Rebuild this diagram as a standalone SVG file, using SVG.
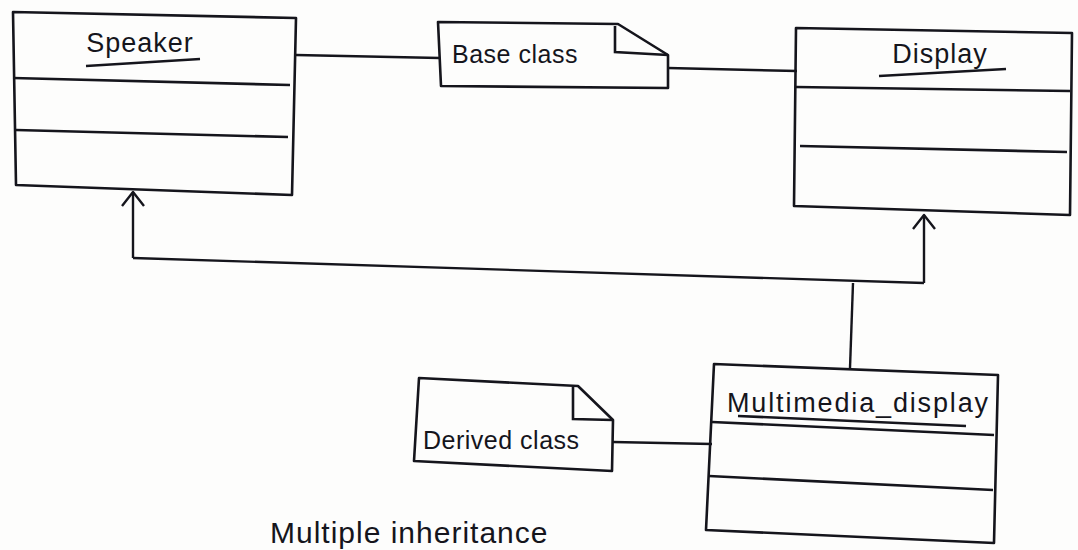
<svg xmlns="http://www.w3.org/2000/svg" width="1078" height="550" viewBox="0 0 1078 550">
  <style>
    .box { fill: none; stroke: #15151c; stroke-width: 2.6; stroke-linejoin: round; }
    .div { fill: none; stroke: #15151c; stroke-width: 2.6; }
    .edge { fill: none; stroke: #15151c; stroke-width: 2.4; }
    .title { font-family: "Liberation Sans", Arial, sans-serif; font-size: 27px; fill: #15151c; text-anchor: middle; letter-spacing: 1px; }
    .note { font-family: "Liberation Sans", Arial, sans-serif; font-size: 25px; fill: #15151c; letter-spacing: 0.5px; }
    .caption { font-family: "Liberation Sans", Arial, sans-serif; font-size: 30px; fill: #15151c; letter-spacing: 1px; }
  </style>
  <defs>
    <!-- open "V" arrowhead for generalisation links -->
    <marker id="open" viewBox="0 0 24 24" refX="20" refY="12" markerWidth="24" markerHeight="24" markerUnits="userSpaceOnUse" orient="auto">
      <path d="M6 1 L20 12 L6 23" fill="none" stroke="#15151c" stroke-width="2.4" stroke-linejoin="round"/>
    </marker>
  </defs>
  <rect width="1078" height="550" fill="#fdfdfc"/>

  <!-- connectors -->
  <g id="connectors">
    <path class="edge" d="M296 55 L440 58"/>
    <path class="edge" d="M668 68 L797 71"/>
    <path class="edge" d="M712 444 L613 442"/>
    <path class="edge" d="M853 283 L850 368"/>
    <path class="edge" d="M133 258 L924 283"/>
    <path class="edge" marker-end="url(#open)" d="M133 258 L133 192"/>
    <path class="edge" marker-end="url(#open)" d="M924 283 L924 215"/>
  </g>

  <!-- Speaker class -->
  <g id="speaker">
    <path class="box" d="M13 12 L296 18 L292 195 L16 185 Z"/>
    <path class="div" d="M13 78 L290 85"/>
    <path class="div" d="M16 130 L288 137"/>
    <text class="title" x="140" y="52">Speaker</text>
    <path class="div" d="M86 66 L200 59" stroke-width="2"/>
  </g>

  <!-- Base class note -->
  <g id="base-class">
    <path class="box" d="M438 22 L618 24 L668 55 L668 88 L441 86 Z"/>
    <path class="div" d="M615 26 L615 52 L668 55"/>
    <text class="note" x="452" y="63">Base class</text>
  </g>

  <!-- Display class -->
  <g id="display">
    <path class="box" d="M796 28 L1072 33 L1070 215 L794 206 Z"/>
    <path class="div" d="M796 87 L1070 91"/>
    <path class="div" d="M800 146 L1067 152"/>
    <text class="title" x="940" y="63">Display</text>
    <path class="div" d="M879 76 L1006 69" stroke-width="2"/>
  </g>

  <!-- Multimedia_display class -->
  <g id="multimedia-display">
    <path class="box" d="M714 364 L998 375 L994 543 L706 530 Z"/>
    <path class="div" d="M712 422 L994 435"/>
    <path class="div" d="M709 476 L993 490"/>
    <text class="title" x="858" y="412" textLength="262">Multimedia_display</text>
    <path class="div" d="M738 416 L966 426" stroke-width="2"/>
  </g>

  <!-- Derived class note -->
  <g id="derived-class">
    <path class="box" d="M419 378 L578 386 L613 420 L612 471 L414 461 Z"/>
    <path class="div" d="M573 387 L573 419 L613 420"/>
    <text class="note" x="423" y="449">Derived class</text>
  </g>

  <!-- caption -->
  <text class="caption" x="270" y="543">Multiple inheritance</text>
</svg>
